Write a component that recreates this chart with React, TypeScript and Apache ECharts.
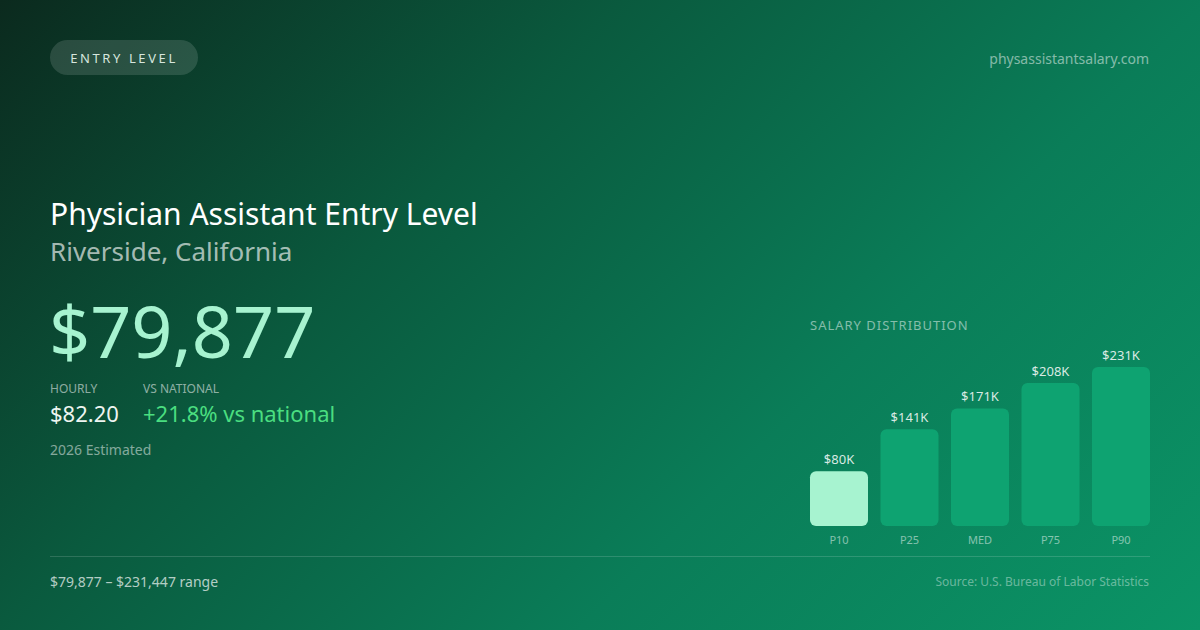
import React, { useEffect, useRef } from 'react';
import * as echarts from 'echarts';

const percentiles = ['P10', 'P25', 'MED', 'P75', 'P90'];
const salaries = [79877, 141000, 171000, 208000, 231447];
const barColors = ['#a7f3d0', '#0ea371', '#0ea371', '#0ea371', '#0ea371'];

const FONT = '"Noto Sans", "Open Sans", sans-serif';

// letter-spaced labels are marked by an odd font size and spaced through CSS
const spacingCss = `
  text[style*="13.01px"] { letter-spacing: 2.6px; }
  text[style*="12.99px"] { letter-spacing: 1px; }
`;

const App: React.FC = () => {
  const chartRef = useRef<HTMLDivElement>(null);

  useEffect(() => {
    if (!chartRef.current) return;
    document.body.style.margin = '0';
    const chart = echarts.init(chartRef.current, null, { renderer: 'svg' });

    const option: echarts.EChartsOption = {
      animation: false,
      textStyle: { fontFamily: FONT },
      graphic: [
        {
          type: 'rect',
          z: -10,
          silent: true,
          shape: { x: 0, y: 0, width: 1200, height: 630 },
          style: {
            fill: new echarts.graphic.LinearGradient(143, -142, 1057, 772, [
              { offset: 0, color: '#0b2a1e' },
              { offset: 0.34, color: '#0a5a3e' },
              { offset: 0.66, color: '#0a7d58' },
              { offset: 1, color: '#0b9466' }
            ], true)
          }
        },
        // badge
        {
          type: 'rect',
          shape: { x: 50, y: 40, width: 148, height: 35, r: 17.5 },
          style: { fill: 'rgba(255,255,255,0.13)' }
        },
        {
          type: 'text',
          x: 124, y: 58,
          style: {
            text: 'ENTRY LEVEL', fill: '#d6e6de', font: `13.01px ${FONT}`,
            align: 'center', verticalAlign: 'middle'
          }
        },
        {
          type: 'text',
          x: 1149, y: 58,
          style: {
            text: 'physassistantsalary.com', fill: 'rgba(255,255,255,0.5)', font: `14px ${FONT}`,
            align: 'right', verticalAlign: 'middle'
          }
        },
        {
          type: 'text',
          x: 50, y: 213,
          style: {
            text: 'Physician Assistant Entry Level', fill: '#ffffff', font: `30px ${FONT}`,
            verticalAlign: 'middle'
          }
        },
        {
          type: 'text',
          x: 50, y: 251,
          style: {
            text: 'Riverside, California', fill: 'rgba(255,255,255,0.65)', font: `26px ${FONT}`,
            verticalAlign: 'middle'
          }
        },
        {
          type: 'text',
          x: 49, y: 330,
          style: {
            text: '$79,877', fill: '#a7f3d0', font: `72px ${FONT}`,
            verticalAlign: 'middle'
          }
        },
        {
          type: 'text',
          x: 50, y: 388,
          style: { text: 'HOURLY', fill: 'rgba(255,255,255,0.55)', font: `12px ${FONT}`, verticalAlign: 'middle' }
        },
        {
          type: 'text',
          x: 143, y: 388,
          style: { text: 'VS NATIONAL', fill: 'rgba(255,255,255,0.55)', font: `12px ${FONT}`, verticalAlign: 'middle' }
        },
        {
          type: 'text',
          x: 50, y: 413,
          style: { text: '$82.20', fill: '#eef5f1', font: `22px ${FONT}`, verticalAlign: 'middle' }
        },
        {
          type: 'text',
          x: 143, y: 413,
          style: { text: '+21.8% vs national', fill: '#4ade80', font: `22px ${FONT}`, verticalAlign: 'middle' }
        },
        {
          type: 'text',
          x: 50, y: 449,
          style: { text: '2026 Estimated', fill: 'rgba(255,255,255,0.5)', font: `14px ${FONT}`, verticalAlign: 'middle' }
        },
        {
          type: 'text',
          x: 810, y: 325,
          style: { text: 'SALARY DISTRIBUTION', fill: 'rgba(255,255,255,0.5)', font: `12.99px ${FONT}`, verticalAlign: 'middle' }
        },
        {
          type: 'line',
          shape: { x1: 50, y1: 556.5, x2: 1150, y2: 556.5 },
          style: { stroke: 'rgba(255,255,255,0.15)', lineWidth: 1 }
        },
        {
          type: 'text',
          x: 50, y: 581,
          style: { text: '$79,877 – $231,447 range', fill: 'rgba(255,255,255,0.7)', font: `14px ${FONT}`, verticalAlign: 'middle' }
        },
        {
          type: 'text',
          x: 1149, y: 581,
          style: {
            text: 'Source: U.S. Bureau of Labor Statistics', fill: 'rgba(255,255,255,0.4)', font: `12px ${FONT}`,
            align: 'right', verticalAlign: 'middle'
          }
        }
      ],
      // bars 58px wide with 12.5px gaps: band of 70.5px per category
      grid: { left: 803.75, right: 43.75, top: 367, bottom: 104, containLabel: false },
      xAxis: {
        type: 'category',
        data: percentiles,
        axisLine: { show: false },
        axisTick: { show: false },
        axisLabel: { color: 'rgba(255,255,255,0.5)', fontSize: 11, margin: 8, fontFamily: FONT }
      },
      yAxis: {
        type: 'value',
        min: 0,
        max: 'dataMax',
        show: false,
        splitLine: { show: false }
      },
      series: [
        {
          type: 'bar',
          data: salaries.map((v, i) => ({ value: v, itemStyle: { color: barColors[i] } })),
          barWidth: 58,
          itemStyle: { borderRadius: 6 },
          label: {
            show: true,
            position: 'top',
            distance: 6,
            color: 'rgba(255,255,255,0.85)',
            fontSize: 13,
            fontFamily: FONT,
            formatter: (p: any) => `$${Math.round(p.value / 1000)}K`
          }
        }
      ]
    };

    chart.setOption(option);
    return () => {
      chart.dispose();
    };
  }, []);

  return (
    <>
      <style>{spacingCss}</style>
      <div
        ref={chartRef}
        style={{ position: 'absolute', left: 0, top: 0, width: '1200px', height: '630px' }}
      />
    </>
  );
};

export default App;
